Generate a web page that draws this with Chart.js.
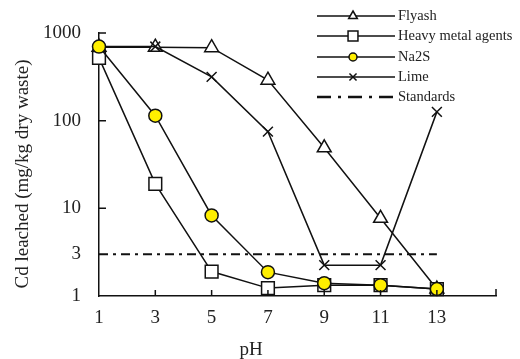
<!DOCTYPE html>
<html><head><meta charset="utf-8">
<script src="https://cdn.jsdelivr.net/npm/chart.js@4/dist/chart.umd.min.js"></script>
<style>html,body{margin:0;padding:0;background:#fff}#wrap{width:520px;height:359px}</style>
</head><body><div id="wrap"><canvas id="c" width="520" height="359"></canvas></div>
<script>
const pH = [1, 3, 5, 7, 9, 11, 13];
const xTicks = [1, 3, 5, 7, 9, 11, 13];
const yTicks = [1, 3, 10, 100, 1000];
const flyash = [690, 690, 680, 290, 49, 7.7, 1.2];
const heavyMetal = [520, 19, 1.9, 1.23, 1.33, 1.33, 1.2];
const na2s = [700, 114, 8.3, 1.87, 1.4, 1.33, 1.2];
const lime = [700, 700, 316, 75, 2.25, 2.25, 126];
const standards = [3, 3, 3, 3, 3, 3, 3];
const xTitle = 'pH';
const yTitle = 'Cd leached (mg/kg dry waste)';

const FONT = "'Liberation Serif', 'DejaVu Serif', serif";
const mk = (arr) => arr.map((v, i) => ({x: pH[i], y: v}));

const series = [
  {label: 'Flyash', data: flyash, style: 'triangle', r: 8, fill: '#fff', order: 3, lr: 5},
  {label: 'Heavy metal agents', data: heavyMetal, style: 'rect', r: 9, fill: '#fff', order: 2, lr: 7},
  {label: 'Na2S', data: na2s, style: 'circle', r: 6.5, fill: '#ffef00', order: 0, lr: 4},
  {label: 'Lime', data: lime, style: 'crossRot', r: 7, fill: '#fff', order: 1, lr: 5},
];

const datasets = series.map(s => ({
  label: s.label, data: mk(s.data), borderColor: '#111', borderWidth: 1.5,
  pointStyle: s.style, pointRadius: s.r, pointBackgroundColor: s.fill,
  pointBorderColor: '#111', pointBorderWidth: 1.5, order: s.order, clip: false, tension: 0
}));
datasets.push({label: 'Standards', data: mk(standards), borderColor: '#111', borderWidth: 2,
  borderDash: [9, 5, 3, 5], pointRadius: 0, order: 4, clip: false});

const legendPlugin = {
  id: 'customLegend',
  afterDraw(chart) {
    const ctx = chart.ctx;
    const rows = [16, 36, 57, 77, 97];
    const x0 = 317, x1 = 395, xm = 353, tx = 398;
    ctx.save();
    ctx.font = '14.5px ' + FONT;
    ctx.fillStyle = '#222';
    ctx.textBaseline = 'middle';
    series.forEach((s, i) => {
      const y = rows[i];
      ctx.strokeStyle = '#111'; ctx.lineWidth = 1.5; ctx.setLineDash([]);
      ctx.beginPath(); ctx.moveTo(x0, y); ctx.lineTo(x1, y); ctx.stroke();
      ctx.fillStyle = s.fill;
      Chart.helpers.drawPoint(ctx, {pointStyle: s.style, radius: s.lr, borderWidth: 1.5}, xm, y);
      ctx.fillStyle = '#222';
      ctx.fillText(s.label, tx, y);
    });
    const y = rows[4];
    ctx.lineWidth = 2.5; ctx.setLineDash([14, 7, 3, 7]);
    ctx.beginPath(); ctx.moveTo(x0, y); ctx.lineTo(x1, y); ctx.stroke();
    ctx.setLineDash([]);
    ctx.fillText('Standards', tx, y);
    // axis titles
    ctx.font = '19px ' + FONT;
    ctx.textAlign = 'center';
    ctx.fillText(xTitle, 251, 350);
    ctx.translate(23, 174);
    ctx.rotate(-Math.PI / 2);
    ctx.fillText(yTitle, 0, 0);
    ctx.restore();
  }
};

const tickPlugin = {
  id: 'inTicks',
  afterDraw(chart) {
    const ctx = chart.ctx, xs = chart.scales.x, ys = chart.scales.y;
    const a = chart.chartArea;
    ctx.save();
    ctx.strokeStyle = '#111'; ctx.lineWidth = 1.5;
    ctx.beginPath();
    [10, 100, 1000].forEach(v => {
      const y = ys.getPixelForValue(v);
      ctx.moveTo(a.left, y); ctx.lineTo(a.left + 7, y);
    });
    xTicks.slice(1).forEach(v => {
      const x = xs.getPixelForValue(v);
      ctx.moveTo(x, a.bottom); ctx.lineTo(x, a.bottom - 6);
    });
    ctx.moveTo(a.right, a.bottom); ctx.lineTo(a.right, a.bottom - 7);
    ctx.stroke();
    ctx.restore();
  }
};

new Chart(document.getElementById('c'), {
  type: 'line',
  data: {datasets},
  plugins: [legendPlugin, tickPlugin],
  options: {
    responsive: false, animation: false,
    layout: {padding: {top: 33, right: 24, left: 0, bottom: 0}},
    plugins: {legend: {display: false}, tooltip: {enabled: false}},
    scales: {
      x: {
        type: 'linear', min: 1, max: 15.1,
        grid: {display: false},
        border: {display: true, color: '#111', width: 1.5},
        afterBuildTicks: (s) => { s.ticks = xTicks.map(v => ({value: v})); },
        afterFit: (s) => { s.height = 63; },
        ticks: {color: '#222', font: {family: FONT, size: 19}, padding: 3, autoSkip: false, maxRotation: 0,
          callback: (v) => String(v)},
        title: {display: false}
      },
      y: {
        type: 'logarithmic', min: 1, max: 1000,
        grid: {display: false},
        border: {display: true, color: '#111', width: 1.5},
        afterBuildTicks: (s) => { s.ticks = yTicks.map(v => ({value: v})); },
        afterFit: (s) => { s.width = 99; },
        ticks: {color: '#222', font: {family: FONT, size: 19}, padding: 10, autoSkip: false,
          callback: (v) => String(v)},
        title: {display: false}
      }
    }
  }
});
</script></body></html>
